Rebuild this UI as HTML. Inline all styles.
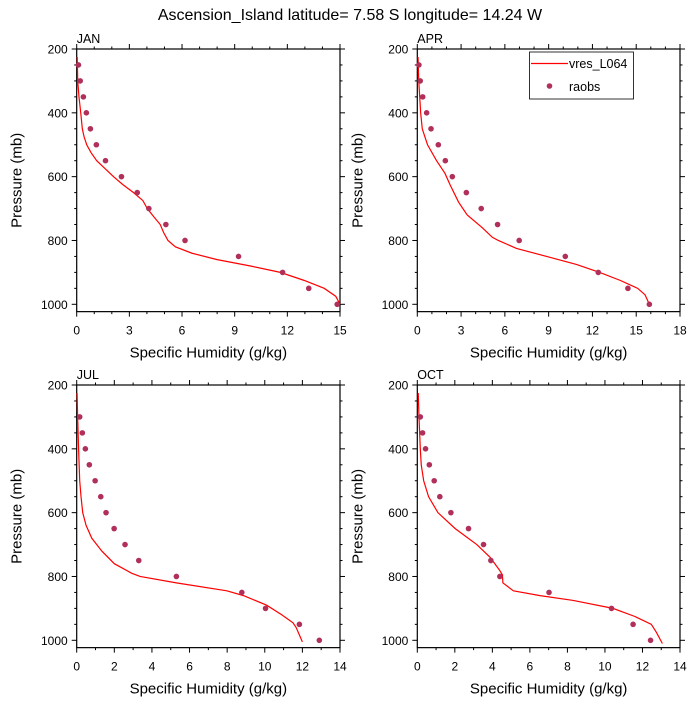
<!DOCTYPE html>
<html><head><meta charset="utf-8"><style>
body{margin:0;background:#fff;}
svg{font-family:"Liberation Sans",sans-serif;}
</style></head><body>
<svg id="chart" width="700" height="700" viewBox="0 0 700 700">
<text x="350" y="20" text-anchor="middle" font-size="16">Ascension_Island  latitude= 7.58 S longitude= 14.24 W</text>
</svg>
<script>
const pressureLevels=[250,300,350,400,450,500,550,600,650,700,750,800,850,900,950,1000];
const janObs=[0.1,0.2,0.38,0.55,0.78,1.12,1.64,2.55,3.45,4.11,5.08,6.17,9.22,11.73,13.22,14.84];
const janModelP=[225,300,350,400,450,475,500,525,550,575,600,625,650,675,700,725,750,775,800,820,840,860,880,900,925,950,975,1000];
const janModelQ=[0.03,0.06,0.13,0.23,0.32,0.42,0.57,0.82,1.14,1.62,2.1,2.63,3.24,3.77,4.02,4.38,4.76,4.95,5.2,5.62,6.57,8.0,9.9,11.6,12.95,14.1,14.76,15.0];
const aprObs=[0.11,0.2,0.37,0.64,0.94,1.44,1.92,2.4,3.36,4.38,5.5,6.98,10.14,12.4,14.43,15.9];
const aprModelP=[225,300,400,450,475,500,550,590,625,680,720,760,790,800,825,850,875,900,925,950,970,1000];
const aprModelQ=[0.05,0.1,0.23,0.34,0.52,0.7,1.32,1.9,2.24,2.83,3.42,4.45,5.14,5.55,6.8,8.86,10.9,12.5,13.9,15.1,15.6,15.9];
const julObsP=[300,350,400,450,500,550,600,650,700,750,800,850,900,950,1000];
const julObs=[0.16,0.3,0.46,0.67,0.98,1.28,1.56,1.99,2.57,3.3,5.3,8.78,10.04,11.84,12.9];
const julModelP=[225,300,400,500,550,600,640,680,720,760,790,800,820,845,860,890,920,945,960,1005];
const julModelQ=[0.02,0.05,0.1,0.16,0.23,0.32,0.5,0.8,1.33,2.0,2.93,3.37,5.3,7.98,8.87,10.1,10.9,11.5,11.67,12.0];
const octObsP=[300,350,400,450,500,550,600,650,700,750,800,850,900,950,1000];
const octObs=[0.16,0.28,0.44,0.64,0.9,1.2,1.79,2.73,3.53,3.92,4.4,7.02,10.35,11.5,12.43];
const octModelP=[225,300,400,450,500,550,600,650,700,740,780,795,820,845,860,875,900,925,950,975,1010];
const octModelQ=[0.05,0.09,0.16,0.21,0.34,0.6,1.1,2.02,3.17,3.88,4.38,4.54,4.56,5.12,6.54,8.31,10.43,11.58,12.47,12.74,13.06];
const yTickLabels=[200,400,600,800,1000];

const NS="http://www.w3.org/2000/svg";
const svg=document.getElementById('chart');
function mk(tag,attrs,parent){const e=document.createElementNS(NS,tag);for(const k in attrs)e.setAttribute(k,attrs[k]);(parent||svg).appendChild(e);return e;}

const panels=[
 {name:'jan',label:'JAN',x0:76.7,x1:340,yTop:49,xMax:15,xStep:3,obsP:pressureLevels,obs:janObs,mP:janModelP,mQ:janModelQ},
 {name:'apr',label:'APR',x0:417.3,x1:680,yTop:49,xMax:18,xStep:3,obsP:pressureLevels,obs:aprObs,mP:aprModelP,mQ:aprModelQ,legend:true},
 {name:'jul',label:'JUL',x0:76.7,x1:340,yTop:385,xMax:14,xStep:2,obsP:julObsP,obs:julObs,mP:julModelP,mQ:julModelQ},
 {name:'oct',label:'OCT',x0:417.3,x1:680,yTop:385,xMax:14,xStep:2,obsP:octObsP,obs:octObs,mP:octModelP,mQ:octModelQ}
];
const pxPerMb=255.3/800, pMax=1023;
panels.forEach(p=>{
 const g=mk('g',{});
 
 
 const yScale=v=>p.yTop+(v-200)*pxPerMb;
 const xScale=v=>p.x0+v/p.xMax*(p.x1-p.x0);
 const yBot=yScale(pMax);
 const frame=mk('rect',{x:p.x0,y:p.yTop,width:p.x1-p.x0,height:yBot-p.yTop,fill:'none',stroke:'#000','stroke-width':1.2},g);
 
 
 // y ticks
 for(let v=200;v<=1000;v+=50){
  const y=yScale(v),len=(v%200===0)?5:2.5;
  mk('line',{x1:p.x0-len,x2:p.x0,y1:y,y2:y,stroke:'#000','stroke-width':1},g);
  mk('line',{x1:p.x1,x2:p.x1+len,y1:y,y2:y,stroke:'#000','stroke-width':1},g);
 }
 yTickLabels.forEach(v=>{
  const t=mk('text',{x:p.x0-9,y:yScale(v)+4.5,'text-anchor':'end','font-size':12},g);
  t.textContent=v;
  
  
 });
 for(let v=0;v<=p.xMax+1e-9;v+=1){
  const x=xScale(v),len=(v%p.xStep===0)?5:2.5;
  mk('line',{x1:x,x2:x,y1:yBot,y2:yBot+len,stroke:'#000','stroke-width':1},g);
  mk('line',{x1:x,x2:x,y1:p.yTop-len,y2:p.yTop,stroke:'#000','stroke-width':1},g);
  if(v%p.xStep===0){
   const t=mk('text',{x:x,y:yBot+23,'text-anchor':'middle','font-size':12},g);
   t.textContent=v;
   
   
  }
 }
 const lab=mk('text',{x:p.x0,y:p.yTop-6,'font-size':12.5},g);
 lab.textContent=p.label;
 
 
 const xt=mk('text',{x:(p.x0+p.x1)/2,y:yBot+46,'text-anchor':'middle','font-size':15},g);
 xt.textContent='Specific Humidity (g/kg)';
 
 
 const yc=(p.yTop+yBot)/2;
 const yt=mk('text',{x:p.x0-55,y:yc,'text-anchor':'middle','font-size':15,transform:`rotate(-90 ${p.x0-55} ${yc})`},g);
 yt.textContent='Pressure (mb)';
 
 
 const d=p.mP.map((pr,i)=>(i?'L':'M')+xScale(p.mQ[i]).toFixed(2)+','+yScale(pr).toFixed(2)).join(' ');
 const line=mk('path',{d:d,fill:'none',stroke:'#ff0000','stroke-width':1.2},g);
 
 
 p.obs.forEach((q,i)=>{
  const c=mk('circle',{cx:xScale(q),cy:yScale(p.obsP[i]),r:2.8,fill:'#b0305a'},g);
  
  
 });
 if(p.legend){
  const lg=mk('g',{},g);
  
  
  mk('rect',{x:529.5,y:52,width:104,height:47,fill:'#fff',stroke:'#000','stroke-width':0.8},lg);
  mk('line',{x1:531,x2:568,y1:63.5,y2:63.5,stroke:'#ff0000','stroke-width':1.2},lg);
  const t1=mk('text',{x:569,y:68,'font-size':12.5},lg);t1.textContent='vres_L064';
  
  
  mk('circle',{cx:549.5,cy:86,r:2.8,fill:'#b0305a'},lg);
  const t2=mk('text',{x:569,y:91,'font-size':12.5},lg);t2.textContent='raobs';
  
  
 }
});
</script>
</body></html>
